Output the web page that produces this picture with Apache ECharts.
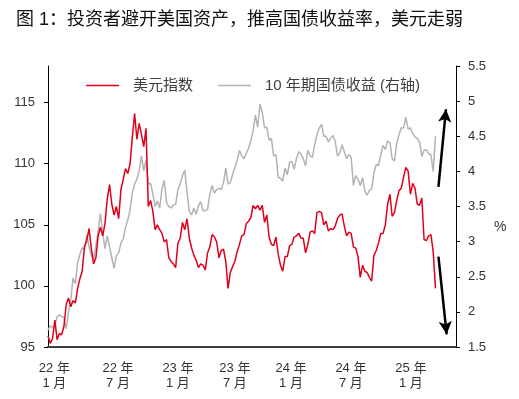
<!DOCTYPE html>
<html><head><meta charset="utf-8">
<script src="https://cdn.jsdelivr.net/npm/echarts@6/dist/echarts.min.js"></script>
<style>html,body{margin:0;padding:0;background:#fff}#c{width:519px;height:399px}</style>
</head><body><div id="c"></div>
<script>
// Weekly observations, week 0 = first week of Jan 2022
var dxy = [
 95.9, 95.3, 95.7, 97.2, 95.6, 96.1, 96.0, 96.7, 98.5, 99.0,
 98.3, 98.8, 98.6, 99.8, 100.6, 101.2, 103.2, 103.7, 104.7, 103.1,
 101.8, 102.3, 104.1, 104.8, 104.1, 105.1, 107.1, 108.3, 106.7, 105.8,
 106.5, 105.5, 107.9, 108.7, 109.6, 109.2, 110.0, 112.2, 114.1, 112.0,
 113.3, 112.4, 111.4, 112.9, 106.5, 107.0, 106.1, 104.6, 105.0, 104.6,
 104.3, 103.6,
 103.8, 102.3, 102.0, 101.8, 101.5, 103.5, 103.9, 105.2, 104.6, 105.5,
 103.9, 103.1, 102.5, 102.1, 101.5, 101.8, 101.7, 101.3, 102.7, 103.2,
 104.2, 104.0, 103.6, 102.3, 102.9, 103.0, 102.0, 99.8, 101.1, 101.6,
 102.0, 102.8, 103.4, 104.1, 104.2, 105.1, 105.3, 105.6, 106.6, 106.3,
 106.6, 106.2, 106.6, 105.2, 105.8, 104.0, 103.4, 103.3, 104.0, 102.6,
 101.7, 101.2,
 102.4, 102.4, 103.3, 103.4, 104.0, 104.1, 104.3, 103.9, 103.9, 102.7,
 103.4, 104.4, 104.5, 104.3, 106.0, 106.1, 106.0, 105.0, 105.3, 104.5,
 104.7, 104.6, 104.9, 105.5, 105.8, 105.9, 104.9, 104.1, 104.4, 104.3,
 103.2, 103.1, 102.4, 100.7, 101.7, 101.2, 101.1, 100.7, 100.4, 102.5,
 102.9, 103.5, 104.3, 104.3, 105.0, 106.7, 107.5, 105.7, 106.0, 107.0,
 107.8, 108.0,
 108.9, 109.7, 109.4, 107.5, 108.4, 108.0, 106.7, 106.6, 107.2, 103.8,
 103.7, 104.1, 104.2, 102.8, 99.8
];
var ust10y = [
 1.74, 1.80, 1.78, 1.80, 1.93, 1.96, 1.93, 1.92, 1.76, 2.00,
 2.17, 2.48, 2.40, 2.70, 2.82, 2.91, 2.90, 3.10, 2.93, 2.80,
 2.75, 2.94, 3.15, 3.40, 3.13, 2.90, 3.08, 2.93, 2.77, 2.62,
 2.80, 2.84, 2.98, 3.04, 3.20, 3.31, 3.45, 3.70, 3.82, 3.89,
 4.01, 4.22, 4.01, 4.16, 3.82, 3.83, 3.68, 3.50, 3.58, 3.48,
 3.75, 3.87,
 3.56, 3.50, 3.48, 3.52, 3.53, 3.74, 3.82, 3.94, 4.02, 3.70,
 3.43, 3.38, 3.48, 3.39, 3.51, 3.57, 3.44, 3.44, 3.46, 3.67,
 3.80, 3.69, 3.74, 3.76, 3.74, 3.84, 4.05, 3.82, 3.84, 3.96,
 4.06, 4.16, 4.30, 4.22, 4.18, 4.26, 4.33, 4.44, 4.58, 4.80,
 4.63, 4.96, 4.84, 4.62, 4.63, 4.44, 4.47, 4.22, 4.24, 3.92,
 3.90, 3.86,
 4.05, 3.95, 4.13, 4.14, 4.03, 4.18, 4.28, 4.25, 4.18, 4.08,
 4.30, 4.22, 4.20, 4.38, 4.52, 4.62, 4.67, 4.50, 4.50, 4.42,
 4.47, 4.51, 4.43, 4.22, 4.26, 4.38, 4.28, 4.18, 4.24, 4.20,
 3.80, 3.94, 3.89, 3.80, 3.91, 3.72, 3.66, 3.73, 3.75, 3.98,
 4.10, 4.08, 4.24, 4.37, 4.31, 4.43, 4.41, 4.18, 4.15, 4.40,
 4.52, 4.62,
 4.62, 4.77, 4.60, 4.62, 4.54, 4.49, 4.47, 4.42, 4.21, 4.30,
 4.31, 4.25, 4.24, 4.00, 4.50
];
var xLabelPos = [2.8, 30.7, 57.0, 82.0, 106.6, 132.9, 159.2];
var xLabelText = ['22 年\n1 月', '22 年\n7 月', '23 年\n1 月', '23 年\n7 月', '24 年\n1 月', '24 年\n7 月', '25 年\n1 月'];
var leftTicks = [95, 100, 105, 110, 115];
var seriesNames = ['美元指数', '10 年期国债收益 (右轴)'];

var FF = '"Liberation Sans", Arial, "Noto Sans CJK SC", sans-serif';
function pairs(arr) { return arr.map(function (v, i) { return [i, v]; }); }

var chart = echarts.init(document.getElementById('c'), null, { renderer: 'canvas' });
chart.setOption({
  animation: false,
  backgroundColor: '#fff',
  title: {
    text: '图 1：投资者避开美国资产，推高国债收益率，美元走弱',
    left: 11, top: 6,
    textStyle: { fontSize: 18, fontWeight: 'normal', color: '#111', fontFamily: FF }
  },
  legend: {
    data: seriesNames,
    left: 81, top: 73,
    icon: 'rect',
    itemWidth: 33, itemHeight: 1.5, itemGap: 25,
    textStyle: { fontSize: 15, color: '#404040', fontFamily: FF, padding: [0, 0, 0, 9] }
  },
  grid: { left: 48, right: 63, top: 66, bottom: 52, containLabel: false },
  xAxis: {
    type: 'value', min: 0, max: 179,
    axisLine: { show: true, onZero: false, lineStyle: { color: '#404040', width: 2 } },
    axisTick: { show: false },
    splitLine: { show: false },
    axisLabel: {
      customValues: xLabelPos,
      margin: 14, fontSize: 13, lineHeight: 15, color: '#333', fontFamily: FF, align: 'center',
      formatter: function (v) {
        for (var i = 0; i < xLabelPos.length; i++) if (Math.abs(xLabelPos[i] - v) < 0.01) return xLabelText[i];
        return '';
      }
    }
  },
  yAxis: [{
    type: 'value', min: 95, max: 118, position: 'left',
    axisLine: { show: true, onZero: false, lineStyle: { color: '#000', width: 1 } },
    axisTick: { show: true, length: 4, customValues: leftTicks, lineStyle: { color: '#000' } },
    axisLabel: { customValues: leftTicks, margin: 13, fontSize: 13, color: '#333', fontFamily: FF },
    splitLine: { show: false }
  }, {
    type: 'value', min: 1.5, max: 5.5, interval: 0.5, position: 'right',
    axisLine: { show: true, onZero: false, lineStyle: { color: '#000', width: 1 } },
    axisTick: { show: true, length: 4, lineStyle: { color: '#000' } },
    axisLabel: { margin: 12, fontSize: 13, color: '#333', fontFamily: FF },
    splitLine: { show: false }
  }],
  graphic: [{
    type: 'text', left: 494, top: 220,
    style: { text: '%', fontSize: 14, fill: '#333', fontFamily: FF }
  }],
  series: [{
    name: seriesNames[1], type: 'line', yAxisIndex: 1, data: pairs(ust10y),
    symbol: 'none', z: 2,
    lineStyle: { color: '#B3B3B3', width: 1.5 }, itemStyle: { color: '#B3B3B3' }
  }, {
    name: seriesNames[0], type: 'line', yAxisIndex: 0, data: pairs(dxy),
    symbol: 'none', z: 3,
    lineStyle: { color: '#E0001B', width: 1.5 }, itemStyle: { color: '#E0001B' },
    markLine: {
      silent: true, symbol: ['none', 'arrow'], symbolSize: [10, 13],
      label: { show: false },
      lineStyle: { color: '#000', width: 2.5, type: 'solid' },
      itemStyle: { color: '#000' },
      data: [
        [{ coord: [171.3, 108.1] }, { coord: [174.6, 114.46] }],
        [{ coord: [171.3, 102.4] }, { coord: [174.9, 96.04] }]
      ]
    }
  }]
});
</script></body></html>
